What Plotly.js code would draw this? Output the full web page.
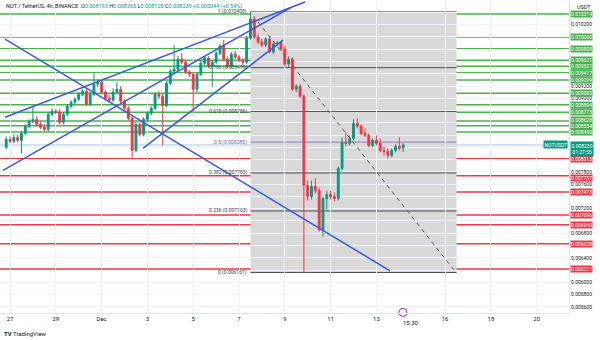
<!DOCTYPE html>
<html><head><meta charset="utf-8">
<script src="https://cdn.plot.ly/plotly-3.0.1.min.js"></script>
<style>html,body{margin:0;padding:0;background:#fff;}#chart{width:600px;height:340px;}</style>
</head><body><div id="chart"></div>
<script>
// ---- data ----
const startTime = '2024-11-26T20:00:00Z'; // first 4h candle
const opens = [0.008200,0.008330,0.008298,0.008363,0.008314,0.008428,0.008543,0.008625,0.008657,0.008576,
0.008527,0.008494,0.008739,0.008788,0.008772,0.008608,0.008739,0.008870,0.008935,0.008984,
0.009066,0.009115,0.008903,0.009066,0.009230,0.009262,0.009099,0.009001,0.008968,0.009099,
0.009148,0.008952,0.008837,0.008674,0.008150,0.008576,0.008412,0.008657,0.008755,0.008837,
0.009066,0.009033,0.008886,0.009246,0.009442,0.009475,0.009638,0.009589,0.009426,0.009393,
0.009148,0.009393,0.009573,0.009655,0.009524,0.009589,0.009736,0.009851,0.009638,0.009524,
0.009720,0.009671,0.009622,0.009589,0.009982,0.010292,0.009998,0.009916,0.009867,0.009965,
0.009753,0.009884,0.009900,0.009802,0.009557,0.009638,0.009148,0.009197,0.009033,0.007578,
0.007398,0.007562,0.007496,0.006859,0.007366,0.007431,0.007398,0.007366,0.007856,0.008281,
0.008265,0.008347,0.008592,0.008543,0.008428,0.008396,0.008232,0.008314,0.008265,0.008150,
0.008134,0.008069,0.008150,0.008216,0.008193];
const highs = [0.008379,0.008379,0.008412,0.008412,0.008461,0.008576,0.008657,0.008854,0.008706,0.008625,
0.008576,0.008772,0.008837,0.008821,0.008821,0.008772,0.008903,0.008968,0.009017,0.009099,
0.009148,0.009148,0.009099,0.009409,0.009311,0.009295,0.009131,0.009050,0.009164,0.009262,
0.009197,0.008984,0.008870,0.008706,0.008625,0.008608,0.008690,0.008788,0.008870,0.009099,
0.009115,0.009082,0.009279,0.009475,0.009867,0.009687,0.009736,0.009622,0.009458,0.009426,
0.009426,0.009622,0.009687,0.009687,0.009622,0.009769,0.009884,0.009949,0.009671,0.009753,
0.009769,0.009704,0.009655,0.010014,0.010408,0.010341,0.010047,0.009965,0.009998,0.009998,
0.009916,0.009933,0.009933,0.009851,0.009687,0.009671,0.009230,0.009230,0.009066,0.007660,
0.007660,0.007693,0.007546,0.007398,0.007496,0.007496,0.007464,0.007889,0.008363,0.008445,
0.008396,0.008657,0.008674,0.008576,0.008510,0.008428,0.008347,0.008396,0.008347,0.008216,
0.008183,0.008183,0.008249,0.008363,0.008265];
const lows = [0.008167,0.008265,0.008265,0.008281,0.008101,0.008396,0.008510,0.008592,0.008543,0.008494,
0.008461,0.008461,0.008706,0.008739,0.008576,0.008576,0.008706,0.008837,0.008903,0.008952,
0.009033,0.008870,0.008870,0.009033,0.009181,0.009066,0.008968,0.008935,0.008935,0.009066,
0.008919,0.008804,0.008641,0.008020,0.008118,0.008379,0.008379,0.008608,0.008723,0.008804,
0.008984,0.008232,0.008854,0.009213,0.009409,0.009442,0.009557,0.009393,0.009344,0.008772,
0.009099,0.009360,0.009524,0.009491,0.009181,0.009557,0.009704,0.009606,0.009491,0.009491,
0.009638,0.009589,0.009540,0.009557,0.009949,0.009965,0.009884,0.009835,0.009835,0.009736,
0.009720,0.009851,0.009769,0.009524,0.009508,0.009115,0.009099,0.009001,0.006161,0.007333,
0.007349,0.007447,0.006826,0.006744,0.007186,0.007349,0.007317,0.007333,0.007823,0.008216,
0.008232,0.008314,0.008510,0.008396,0.008363,0.008200,0.008200,0.008232,0.008118,0.008069,
0.008020,0.008036,0.008118,0.008150,0.008125];
const closes = [0.008330,0.008298,0.008363,0.008314,0.008428,0.008543,0.008625,0.008657,0.008576,0.008527,
0.008494,0.008739,0.008788,0.008772,0.008608,0.008739,0.008870,0.008935,0.008984,0.009066,
0.009115,0.008903,0.009066,0.009230,0.009262,0.009099,0.009001,0.008968,0.009099,0.009148,
0.008952,0.008837,0.008674,0.008150,0.008576,0.008412,0.008657,0.008755,0.008837,0.009066,
0.009033,0.008886,0.009246,0.009442,0.009475,0.009638,0.009589,0.009426,0.009393,0.009148,
0.009393,0.009573,0.009655,0.009524,0.009589,0.009736,0.009851,0.009638,0.009524,0.009720,
0.009671,0.009622,0.009589,0.009982,0.010292,0.009998,0.009916,0.009867,0.009965,0.009753,
0.009884,0.009900,0.009802,0.009557,0.009638,0.009148,0.009197,0.009033,0.007578,0.007398,
0.007562,0.007496,0.006859,0.007366,0.007431,0.007398,0.007366,0.007856,0.008281,0.008265,
0.008347,0.008592,0.008543,0.008428,0.008396,0.008232,0.008314,0.008265,0.008150,0.008134,
0.008069,0.008150,0.008216,0.008183,0.008239];

const greenLevels = [0.010374,0.010000,0.009808,0.009621,0.009521,0.009417,0.009299,0.009083,0.008894,0.008773,0.008628,0.008554,0.008450];
const redLevels = [0.008013,0.007737,0.007473,0.007096,0.006940,0.006628,0.006217];

const fibRatios = ['1','0.786','0.618','0.5','0.382','0.236','0'];
const fibPrices = [0.010408,0.009499,0.008786,0.008285,0.007783,0.007163,0.006161];
const fibStart = '2024-12-07 12:00', fibEnd = '2024-12-16 12:00';

const trendX = [
  ['2024-11-26 18:46','2024-12-09 21:10'],
  ['2024-11-26 16:40','2024-12-09 05:27'],
  ['2024-12-02 19:23','2024-12-08 22:07'],
  ['2024-11-26 18:46','2024-12-13 14:15']
];
const trendY = [
  [0.008690,0.010570],
  [0.007824,0.010472],
  [0.008183,0.009949],
  [0.009965,0.006188]
];
const dashX = ['2024-12-07 19:55','2024-12-16 10:00'];
const dashY = [0.010243,0.006188];

const lastPrice = 0.008239;
const countdown = '01:27:55';
const header = {sym:'NOT / TetherUS, 4h, BINANCE', o:'0.008193', h:'0.008265', l:'0.008125', c:'0.008239', chg:'+0.000044 (+0.54%)'};

const xTickVals = ['2024-11-27','2024-11-29','2024-12-01','2024-12-03','2024-12-05','2024-12-07','2024-12-09','2024-12-11','2024-12-13','2024-12-16','2024-12-18','2024-12-20'];
const xTickText = ['27','29','Dec','3','5','7','9','11','13','16','18','20'];
const timeMarker = {x:'2024-12-14 12:00', text:'15:30'};

const yTickVals = [0.0056,0.0058,0.0060,0.0062,0.0064,0.0066,0.0068,0.0070,0.0072,0.0074,0.0076,0.0078,0.0080,0.0082,0.0084,0.0086,0.0088,0.0090,0.0092,0.0094,0.0096,0.0098,0.0100,0.0102,0.0104];
const yTickText = ['0.005600','0.005800','0.006000','','0.006400','','0.006800','','0.007200','','0.007600','0.007800','','','','','','0.009000','0.009200','','','','','0.010200',''];

// ---- build ----
const t0 = new Date(startTime).getTime();
const times = opens.map((_, i) => new Date(t0 + i * 4 * 3600e3).toISOString().slice(0,16).replace('T',' '));

const FONT = 'Roboto, Liberation Sans, Arial';
const GREEN = '#4caf50', RED = '#f23645', UP = '#089981', DOWN = '#f23645', BLUE = '#3a5bd9';
// small label nudges so stacked price tags do not collide (like the price scale does)
const tagNudge = {'0.008628':1.5, '0.007737':-2};

const traces = [{
  type:'candlestick', x:times, open:opens, high:highs, low:lows, close:closes,
  increasing:{line:{color:UP,width:1}, fillcolor:UP},
  decreasing:{line:{color:DOWN,width:1}, fillcolor:DOWN},
  whiskerwidth:0, hoverinfo:'skip', showlegend:false
}];
trendX.forEach((xs, k) => traces.push({type:'scatter', mode:'lines', x:xs, y:trendY[k], line:{color:BLUE,width:1.5}, hoverinfo:'skip', showlegend:false}));
traces.push({type:'scatter', mode:'lines', x:dashX, y:dashY, line:{color:'#555',width:1,dash:'4px,4px'}, hoverinfo:'skip', showlegend:false});
traces.push({type:'scatter', mode:'markers', x:['2024-12-14 03:50'], y:[0.005510], cliponaxis:false,
  marker:{symbol:'circle', size:8, color:'#fff', line:{color:'#9c27b0',width:1}}, hoverinfo:'skip', showlegend:false});

const shapes = [];
shapes.push({type:'rect', xref:'x', yref:'y', x0:fibStart, x1:fibEnd, y0:fibPrices[6], y1:fibPrices[0], fillcolor:'#d9d9d9', line:{width:0}, layer:'below'});
greenLevels.forEach(v => shapes.push({type:'line', xref:'paper', yref:'y', x0:0, x1:1, y0:v, y1:v, line:{color:GREEN,width:1.5}, layer:'below'}));
redLevels.forEach(v => shapes.push({type:'line', xref:'paper', yref:'y', x0:0, x1:1, y0:v, y1:v, line:{color:RED,width:1.5}, layer:'below'}));
fibPrices.forEach((v, k) => shapes.push({type:'line', xref:'x', yref:'y', x0:fibStart, x1:fibEnd, y0:v, y1:v, line:{color: fibRatios[k]==='0.5' ? '#8a7fb8' : '#4a4a4a', width:1}, layer:'below'}));
shapes.push({type:'line', xref:'paper', yref:'y', x0:0, x1:1, y0:lastPrice, y1:lastPrice, line:{color:'#a9c7ea',width:1}, layer:'below'});

const annotations = [];
const tag = (v, col) => ({xref:'paper', yref:'y', x:1, xanchor:'left', xshift:1, y:v, yanchor:'middle', yshift: tagNudge[v.toFixed(6)] || 0,
  text:v.toFixed(6), showarrow:false, bgcolor:col, borderpad:0, font:{family:FONT, size:5, color:'#fff'}});
greenLevels.forEach(v => annotations.push(tag(v, GREEN)));
redLevels.forEach(v => annotations.push(tag(v, RED)));
annotations.push({xref:'paper', yref:'y', x:1, xanchor:'left', xshift:1, y:lastPrice, yanchor:'top', yshift:4, showarrow:false,
  text:lastPrice.toFixed(6)+'<br>'+countdown, bgcolor:UP, borderpad:0.5, font:{family:FONT,size:5,color:'#fff'}});
annotations.push({xref:'paper', yref:'y', x:1, xanchor:'right', xshift:-1, y:lastPrice, yanchor:'middle', showarrow:false,
  text:'NOTUSDT', bgcolor:UP, borderpad:0.5, font:{family:FONT,size:5,color:'#fff'}});
fibPrices.forEach((v, k) => annotations.push({xref:'x', yref:'y', x:fibStart, xanchor:'right', xshift:-1, y:v, yanchor:'middle', showarrow:false,
  text:fibRatios[k]+' ('+v.toFixed(6)+')', font:{family:FONT,size:5,color: fibRatios[k]==='0.5' ? '#6f64a0' : '#444'}}));
const g = s => '<span style="color:'+UP+'">'+s+'</span>';
annotations.push({xref:'paper', yref:'paper', x:0, xanchor:'left', xshift:4, y:1, yanchor:'top', yshift:-1, showarrow:false, align:'left',
  text:header.sym+'  O'+g(header.o)+' H'+g(header.h)+' L'+g(header.l)+' C'+g(header.c)+' '+g(header.chg),
  font:{family:FONT,size:5.5,color:'#131722'}});
annotations.push({xref:'paper', yref:'paper', x:1, xanchor:'left', xshift:6, y:1, yanchor:'top', yshift:-2, showarrow:false,
  text:'USDT', font:{family:FONT,size:5.5,color:'#131722'}});
annotations.push({xref:'x', yref:'paper', x:timeMarker.x, xanchor:'center', y:0, yanchor:'top', yshift:-4, showarrow:false,
  text:timeMarker.text, font:{family:FONT,size:6,color:'#131722'}});
annotations.push({xref:'paper', yref:'paper', x:0, xanchor:'left', xshift:2, y:0, yanchor:'top', yshift:-15, showarrow:false,
  text:'<b>TV</b> TradingView', font:{family:FONT,size:6,color:'#131722'}});

const layout = {
  width:600, height:340, margin:{l:0, r:31, t:0, b:27},
  paper_bgcolor:'#fff', plot_bgcolor:'#fff', showlegend:false,
  font:{family:FONT, size:6, color:'#131722'},
  xaxis:{type:'date', range:['2024-11-26 13:30','2024-12-21 09:50'], tickvals:xTickVals, ticktext:xTickText,
    tickfont:{size:6,color:'#131722'}, ticks:'', showgrid:true, gridcolor:'#f0f3fa', showline:true, linecolor:'#e0e3eb',
    zeroline:false, rangeslider:{visible:false}, fixedrange:true},
  yaxis:{side:'right', range:[0.0055,0.010602], tickvals:yTickVals, ticktext:yTickText,
    tickfont:{size:5,color:'#131722'}, ticks:'', showgrid:true, gridcolor:'#f0f3fa', showline:true, linecolor:'#e0e3eb',
    zeroline:false, fixedrange:true},
  shapes, annotations
};
Plotly.newPlot('chart', traces, layout, {staticPlot:true, displayModeBar:false});
</script></body></html>
